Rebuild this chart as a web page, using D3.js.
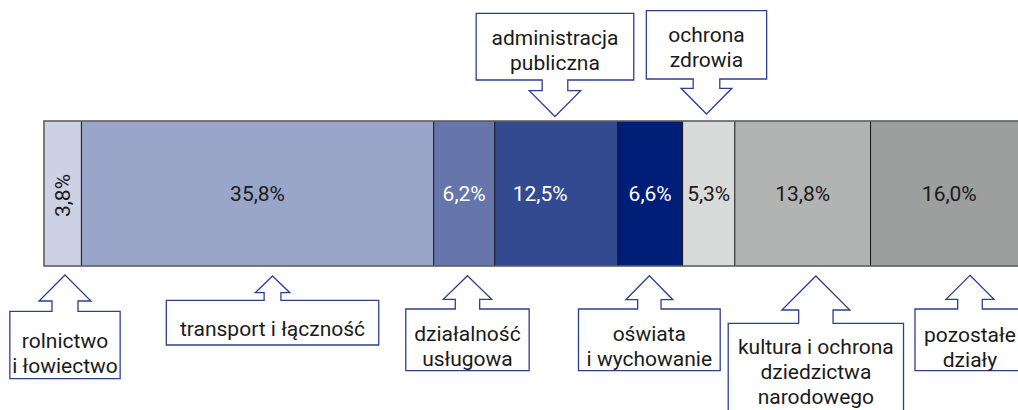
<!DOCTYPE html>
<html>
<head>
<meta charset="utf-8">
<script src="https://cdn.jsdelivr.net/npm/d3@7"></script>
<style>
  html, body { margin: 0; padding: 0; background: #ffffff; }
  svg { display: block; }
  text { font-family: Roboto, "Open Sans", sans-serif; }
</style>
</head>
<body>
<svg id="chart" width="1018" height="410"></svg>
<script>
// ---- data ----
const categories = [
  "rolnictwo i łowiectwo",
  "transport i łączność",
  "działalność usługowa",
  "administracja publiczna",
  "oświata i wychowanie",
  "ochrona zdrowia",
  "kultura i ochrona dziedzictwa narodowego",
  "pozostałe działy"
];
const values = [3.8, 35.8, 6.2, 12.5, 6.6, 5.3, 13.8, 16.0];
const valueLabels = ["3,8%", "35,8%", "6,2%", "12,5%", "6,6%", "5,3%", "13,8%", "16,0%"];
const calloutLines = [
  ["rolnictwo", "i łowiectwo"],
  ["transport i łączność"],
  ["działalność", "usługowa"],
  ["administracja", "publiczna"],
  ["oświata", "i wychowanie"],
  ["ochrona", "zdrowia"],
  ["kultura i ochrona", "dziedzictwa", "narodowego"],
  ["pozostałe", "działy"]
];

// ---- styles / layout ----
const fills = ["#cdd1e4", "#99a6c9", "#6675aa", "#334a91", "#001e78", "#d9dada", "#b2b3b3", "#9d9e9e"];
const textColors = ["#1a1a1a", "#1a1a1a", "#ffffff", "#ffffff", "#ffffff", "#1a1a1a", "#1a1a1a", "#1a1a1a"];
const labelDx = [0, 0, 0, -16, 0, 0, 0, 0];
const rotated = [true, false, false, false, false, false, false, false];
// callout geometry: side, offset of tip from segment centre, box width, box top/bottom, shaft & head half widths, neck y, tip y, first baseline
const callouts = [
  {side: "bottom", dx: 2.3,  w: 110.3, top: 311.3, bottom: 378.7, shaft: 13,   head: 26,   neck: 301,   tip: 275,   base: 348.3},
  {side: "bottom", dx: 15,   w: 212.4, top: 300.3, bottom: 345,   shaft: 8.4,  head: 17.3, neck: 292.7, tip: 276,   base: 336},
  {side: "bottom", dx: 3.3,  w: 123.4, top: 309,   bottom: 370.7, shaft: 12.2, head: 24.2, neck: 299.3, tip: 275.7, base: 340.7},
  {side: "top",    dx: -1.2, w: 157.6, top: 13.3,  bottom: 80,    shaft: 12.8, head: 25.7, neck: 90.7,  tip: 116.5, base: 45},
  {side: "bottom", dx: -0.8, w: 141.7, top: 309,   bottom: 370.7, shaft: 11.7, head: 23.5, neck: 299.7, tip: 275.7, base: 340.7},
  {side: "top",    dx: -2.2, w: 120.3, top: 10.7,  bottom: 79,    shaft: 13.3, head: 25.4, neck: 88.3,  tip: 114,   base: 42},
  {side: "bottom", dx: 13.2, w: 175.3, top: 323.3, bottom: 416,   shaft: 17.2, head: 34,   neck: 310,   tip: 276,   base: 354},
  {side: "bottom", dx: 20.7, w: 110,   top: 309,   bottom: 370.7, shaft: 12.3, head: 24,   neck: 299.3, tip: 275.3, base: 341.5}
];
const lineHeight = 25;
const barTop = 121, barBottom = 266;

const svg = d3.select("#chart");
const x = d3.scaleLinear().domain([0, 100]).range([44, 1028]);

const cum = d3.cumsum(values);
const segs = values.map((v, i) => ({
  i, v, cat: categories[i], start: cum[i] - v, end: cum[i]
}));

// bars
svg.append("g").selectAll("rect").data(segs).join("rect")
  .attr("x", d => x(d.start))
  .attr("y", barTop)
  .attr("width", d => x(d.end) - x(d.start))
  .attr("height", barBottom - barTop)
  .attr("fill", d => fills[d.i]);

// separators
svg.append("g").selectAll("line").data(segs.slice(1)).join("line")
  .attr("x1", d => x(d.start)).attr("x2", d => x(d.start))
  .attr("y1", barTop).attr("y2", barBottom)
  .attr("stroke", "#111").attr("stroke-width", 1);

// outer border
svg.append("rect")
  .attr("x", x(0)).attr("y", barTop)
  .attr("width", x(100) - x(0)).attr("height", barBottom - barTop)
  .attr("fill", "none").attr("stroke", "#5e5e5e").attr("stroke-width", 1.6);

// value labels
const midY = (barTop + barBottom) / 2;
svg.append("g").selectAll("text").data(segs).join("text")
  .attr("transform", d => {
    const cx = x((d.start + d.end) / 2) + labelDx[d.i];
    return rotated[d.i] ? `translate(${cx},${midY + 2}) rotate(-90)` : `translate(${cx},${midY})`;
  })
  .attr("text-anchor", "middle")
  .attr("dy", "0.36em")
  .attr("font-size", 21)
  .attr("fill", d => textColors[d.i])
  .text(d => valueLabels[d.i]);

// callouts
function calloutPath(c, tx) {
  const L = tx - c.w / 2, R = tx + c.w / 2;
  if (c.side === "bottom") {
    return `M${tx},${c.tip} L${tx + c.head},${c.neck} L${tx + c.shaft},${c.neck} L${tx + c.shaft},${c.top}
            L${R},${c.top} L${R},${c.bottom} L${L},${c.bottom} L${L},${c.top}
            L${tx - c.shaft},${c.top} L${tx - c.shaft},${c.neck} L${tx - c.head},${c.neck} Z`;
  }
  return `M${tx},${c.tip} L${tx + c.head},${c.neck} L${tx + c.shaft},${c.neck} L${tx + c.shaft},${c.bottom}
          L${R},${c.bottom} L${R},${c.top} L${L},${c.top} L${L},${c.bottom}
          L${tx - c.shaft},${c.bottom} L${tx - c.shaft},${c.neck} L${tx - c.head},${c.neck} Z`;
}

const cg = svg.append("g").selectAll("g").data(segs).join("g");
cg.each(function(d) {
  const c = callouts[d.i];
  const tx = x((d.start + d.end) / 2) + c.dx;
  const g = d3.select(this);
  g.append("path")
    .attr("d", calloutPath(c, tx))
    .attr("fill", "#ffffff")
    .attr("stroke", "#2e3f8f")
    .attr("stroke-width", 1.3)
    .attr("stroke-linejoin", "miter");
  const t = g.append("text")
    .attr("x", tx)
    .attr("y", c.base)
    .attr("text-anchor", "middle")
    .attr("font-size", 21)
    .attr("fill", "#1a1a1a");
  t.selectAll("tspan").data(calloutLines[d.i]).join("tspan")
    .attr("x", tx)
    .attr("y", (s, k) => c.base + k * lineHeight)
    .text(s => s);
});
</script>
</body>
</html>
